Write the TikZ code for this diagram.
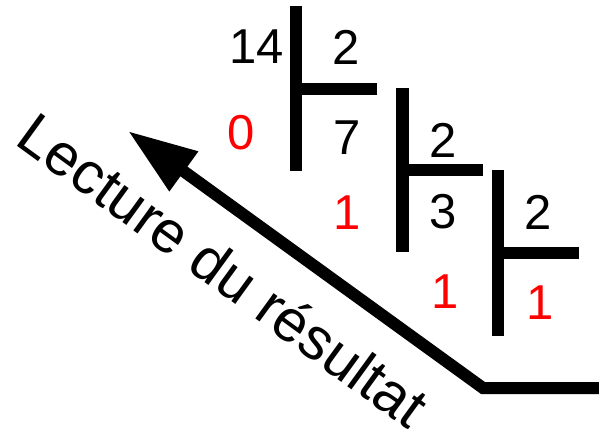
\documentclass[tikz,border=0pt]{standalone}
\usepackage{fontspec}
\setmainfont{Liberation Sans}
\usetikzlibrary{arrows.meta}
\begin{document}
\begin{tikzpicture}[x=1pt,y=1pt,
  num/.style={inner sep=0pt,font=\fontsize{49}{55}\selectfont},
  rem/.style={num,text={rgb,255:red,255;green,0;blue,0}},
  bar/.style={line width=12.5pt,line cap=butt},
  hbar/.style={line width=11.5pt,line cap=butt}]
\useasboundingbox (0,0) rectangle (599,434);
% division bars
\coordinate (v1t) at (296,428); \coordinate (v1b) at (296,263);
\coordinate (h1e) at (377,345);
\coordinate (v2t) at (402.5,346); \coordinate (v2b) at (402.5,182);
\coordinate (h2e) at (483,264);
\coordinate (v3t) at (498,264); \coordinate (v3b) at (498,98);
\coordinate (h3e) at (579,181);
\draw[bar] (v1t) -- (v1b);
\draw[hbar] (v1t |- h1e) -- (h1e);
\draw[bar] (v2t) -- (v2b);
\draw[hbar] (v2t |- h2e) -- (h2e);
\draw[bar] (v3t) -- (v3b);
\draw[hbar] (v3t |- h3e) -- (h3e);
% numbers
\node[num] (n14) at (257,387) {14};
\node[num] (d1) at (346,387) {2};
\node[rem] (r0) at (241,301) {0};
\node[num] (n7) at (347,296) {7};
\node[num] (d2) at (443,294) {2};
\node[rem] (r1) at (347,221) {1};
\node[num] (n3) at (443,222) {3};
\node[num] (d3) at (538,222) {2};
\node[rem] (r2) at (445,142) {1};
\node[rem] (r3) at (540,131) {1};
% reading arrow
\coordinate (e) at (599,46);
\coordinate (c) at (483,46);
\coordinate (tip) at (128,303);
\draw[line width=12pt,line join=miter,-{Triangle[length=69pt,width=46pt]}] (e) -- (c) -- (tip);
\node[anchor=base,rotate=-36,inner sep=0pt,font=\fontsize{59}{66}\selectfont] (lbl) at (211,147) {Lecture du résultat};
\end{tikzpicture}
\end{document}
